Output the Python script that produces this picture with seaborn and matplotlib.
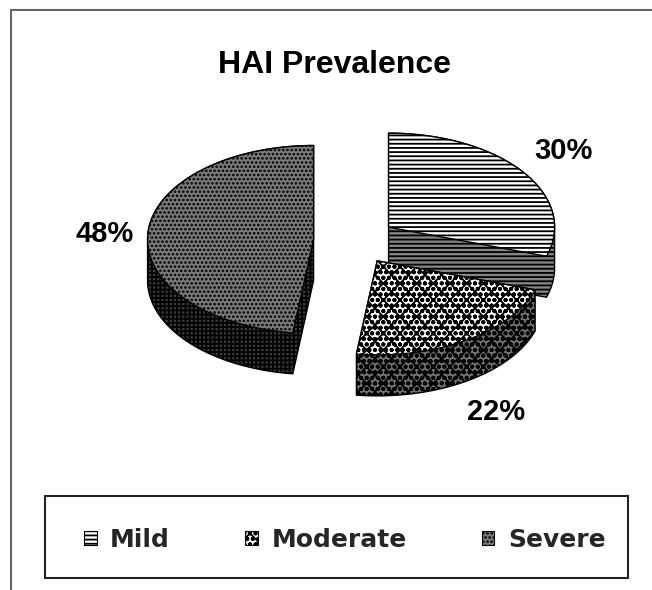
import numpy as np
import matplotlib
matplotlib.use("Agg")
import matplotlib.pyplot as plt
import seaborn as sns
from matplotlib.patches import Polygon, Rectangle, Patch
from matplotlib.lines import Line2D
from matplotlib.font_manager import FontProperties

# ---- data ----
categories = ["Mild", "Moderate", "Severe"]
shares = [30, 22, 48]
pct_labels = ["30%", "22%", "48%"]
chart_title = "HAI Prevalence"

# ---- style ----
sns.set_theme(style="white")
plt.rcParams["font.family"] = ["Liberation Sans", "DejaVu Sans"]
plt.rcParams["hatch.linewidth"] = 1.3

W, H = 652, 590
fig = plt.figure(figsize=(W / 100, H / 100), dpi=100)
fig.patch.set_facecolor("white")
ax = fig.add_axes([0, 0, 1, 1])
ax.set_xlim(0, W)
ax.set_ylim(H, 0)
ax.axis("off")

# geometry of the pseudo-3D pie (pixel space)
cx, cy, rx, ry, depth, explode = 355, 241, 166, 94, 41, 0.25

top_style = {"Mild": ("white", "----"),
             "Moderate": ("white", "xxooo"),
             "Severe": ("#7c7c7c", "....")}
side_style = {"Mild": ("#858585", "----"),
              "Moderate": ("#707070", "xxooo"),
              "Severe": ("#3c3c3c", "++++")}


def hull(points):
    pts = sorted(set(map(tuple, np.round(points, 3))))
    def cross(o, a, b):
        return (a[0] - o[0]) * (b[1] - o[1]) - (a[1] - o[1]) * (b[0] - o[0])
    lower, upper = [], []
    for p in pts:
        while len(lower) >= 2 and cross(lower[-2], lower[-1], p) <= 0:
            lower.pop()
        lower.append(p)
    for p in reversed(pts):
        while len(upper) >= 2 and cross(upper[-2], upper[-1], p) <= 0:
            upper.pop()
        upper.append(p)
    return np.array(lower[:-1] + upper[:-1])


total = float(sum(shares))
slices = []
start = 90.0
for name, val, lab in zip(categories, shares, pct_labels):
    span = 360.0 * val / total
    t1, t2 = start, start - span
    tm = np.radians((t1 + t2) / 2)
    ox = explode * rx * np.cos(tm)
    oy = -explode * ry * np.sin(tm)
    th = np.radians(np.linspace(t1, t2, 120))
    arc = np.column_stack([cx + ox + rx * np.cos(th), cy + oy - ry * np.sin(th)])
    top = np.vstack([[cx + ox, cy + oy], arc])
    slices.append(dict(name=name, top=top, ox=ox, oy=oy, tm=tm, lab=lab))
    start = t2

# back to front
for s in sorted(slices, key=lambda d: d["oy"]):
    top = s["top"]
    bottom = top + np.array([0, depth])
    side = hull(np.vstack([top, bottom]))
    fc, ht = side_style[s["name"]]
    ax.add_patch(Polygon(side, closed=True, facecolor=fc, edgecolor="black",
                         hatch=ht, linewidth=1.0))
    fc, ht = top_style[s["name"]]
    ax.add_patch(Polygon(top, closed=True, facecolor=fc, edgecolor="black",
                         hatch=ht, linewidth=1.0))

# percentage labels: outside the middle of each slice's outer rim
for s in slices:
    c, sn = np.cos(s["tm"]), np.sin(s["tm"])
    mx = cx + s["ox"] + rx * c
    my = cy + s["oy"] - ry * sn + depth * max(0.0, -sn)
    lx = mx + 44 * c + 8 * abs(sn)
    ly = my - 40 * sn + 3
    ax.text(lx, ly, s["lab"], ha="center", va="center", fontsize=21,
            fontweight="bold", family="Liberation Sans", color="black")

# title
ax.text(335, 73, chart_title, ha="center", va="baseline", fontsize=23,
        fontweight="bold", family="Liberation Sans", color="black")

# outer frame (left and top)
ax.add_line(Line2D([11, 11], [10, H], color="#666666", linewidth=1.5))
ax.add_line(Line2D([11, W], [10, 10], color="#666666", linewidth=1.5))

# legend box
ax.add_patch(Rectangle((45, 496), 583, 82, fill=False, edgecolor="#222222",
                       linewidth=1.5))
handles = [Patch(facecolor=top_style[c][0], hatch=top_style[c][1],
                 edgecolor="black", linewidth=0.8) for c in categories]
fig.legend(handles, categories, loc="center left",
           bbox_to_anchor=(84 / W, 1 - 540 / H), ncol=3, frameon=False,
           prop=FontProperties(family="DejaVu Sans", weight="bold", size=18),
           handlelength=0.5, handleheight=0.5, handletextpad=0.55,
           columnspacing=3.0, borderaxespad=0, borderpad=0)

fig.savefig("out.png", dpi=100, facecolor="white")
